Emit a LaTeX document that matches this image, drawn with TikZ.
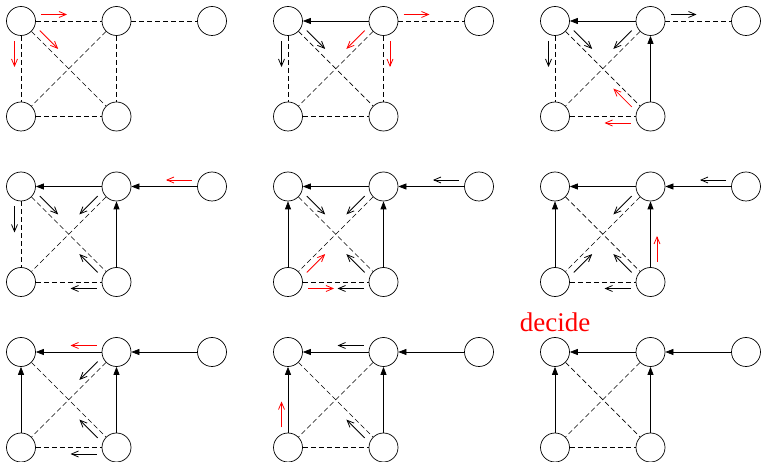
\documentclass[tikz,border=0pt]{standalone}
\usepackage{fontspec}
\setmainfont{Liberation Serif}
\usetikzlibrary{arrows.meta,calc}

\begin{document}
\begin{tikzpicture}[x=1pt, y=1pt]
	\tikzset{vertex/.style = {shape=circle, draw, minimum size=29pt, inner sep=0pt, line width=0.7pt}}
	\tikzset{edge/.style = {line width=0.7pt, -{Triangle[length=8pt, width=6pt]}}}
	\tikzset{link/.style = {line width=0.7pt, dash pattern=on 5pt off 3pt}}
	\tikzset{msg/.style = {line width=0.8pt, -{Straight Barb[length=7pt, width=6pt]}}}
	\tikzset{new/.style = {msg, red}}
	\tikzset{pass/.style = {to path = {($(\tikztostart)!20pt!(\tikztotarget)!6.5pt!#1:(\tikztotarget)$) -- ($(\tikztostart)!46pt!(\tikztotarget)!6.5pt!#1:(\tikztotarget)$)}}}
	\useasboundingbox (0, 0) rectangle (761, -462);
	% the nine rounds, row by row
	\foreach \n/\x/\y in {1/21/-21, 2/288/-21, 3/555/-21,
	                      4/21/-186.5, 5/288/-186.5, 6/555/-186.5,
	                      7/21/-352, 8/288/-352, 9/555/-352} {
		\node[vertex] (a\n) at (\x, \y) {};
		\node[vertex] (b\n) at (\x+95.5, \y) {};
		\node[vertex] (c\n) at (\x+191, \y) {};
		\node[vertex] (d\n) at (\x, \y-95.5) {};
		\node[vertex] (e\n) at (\x+95.5, \y-95.5) {};
	}
	\node[red, font=\fontsize{27}{30}\selectfont, anchor=base] (decide) at (555, -331.5) {decide};

	% round 1
	\foreach \s/\t in {a/b, b/c, a/d, b/e, d/e, a/e, b/d}
		\draw[link] (\s1) -- (\t1);
	\draw[new, pass=90] (a1) to (b1);
	\draw[new, pass=-90] (a1) to (d1);
	\draw[new, pass=90] (a1) to (e1);

	% round 2
	\draw[edge] (b2) -- (a2);
	\foreach \s/\t in {b/c, a/d, b/e, d/e, a/e, b/d}
		\draw[link] (\s2) -- (\t2);
	\draw[msg, pass=-90] (a2) to (d2);
	\draw[msg, pass=90] (a2) to (e2);
	\draw[new, pass=-90] (b2) to (d2);
	\draw[new, pass=90] (b2) to (e2);
	\draw[new, pass=90] (b2) to (c2);

	% round 3
	\draw[edge] (b3) -- (a3);
	\draw[edge] (e3) -- (b3);
	\foreach \s/\t in {b/c, a/d, d/e, a/e, b/d}
		\draw[link] (\s3) -- (\t3);
	\draw[msg, pass=-90] (a3) to (d3);
	\draw[msg, pass=90] (a3) to (e3);
	\draw[msg, pass=-90] (b3) to (d3);
	\draw[msg, pass=90] (b3) to (c3);
	\draw[new, pass=90] (e3) to (a3);
	\draw[new, pass=90] (e3) to (d3);

	% round 4
	\draw[edge] (b4) -- (a4);
	\draw[edge] (c4) -- (b4);
	\draw[edge] (e4) -- (b4);
	\foreach \s/\t in {a/d, d/e, a/e, b/d}
		\draw[link] (\s4) -- (\t4);
	\draw[new, pass=-90] (c4) to (b4);
	\draw[msg, pass=-90] (a4) to (d4);
	\draw[msg, pass=90] (a4) to (e4);
	\draw[msg, pass=-90] (b4) to (d4);
	\draw[msg, pass=90] (e4) to (a4);
	\draw[msg, pass=90] (e4) to (d4);

	% rounds 5 to 9 share the tree
	\foreach \n in {5,...,9} {
		\draw[edge] (b\n) -- (a\n);
		\draw[edge] (c\n) -- (b\n);
		\draw[edge] (e\n) -- (b\n);
		\draw[edge] (d\n) -- (a\n);
		\draw[link] (d\n) -- (e\n);
		\draw[link] (a\n) -- (e\n);
		\draw[link] (b\n) -- (d\n);
	}

	% round 5
	\draw[msg, pass=-90] (c5) to (b5);
	\draw[msg, pass=90] (a5) to (e5);
	\draw[msg, pass=-90] (b5) to (d5);
	\draw[msg, pass=90] (e5) to (a5);
	\draw[msg, pass=90] (e5) to (d5);
	\draw[new, pass=-90] (d5) to (e5);
	\draw[new, pass=-90] (d5) to (b5);

	% round 6
	\draw[msg, pass=-90] (c6) to (b6);
	\draw[msg, pass=-90] (b6) to (d6);
	\draw[msg, pass=-90] (d6) to (b6);
	\draw[msg, pass=90] (e6) to (a6);
	\draw[msg, pass=90] (e6) to (d6);
	\draw[new, pass=-90] (e6) to (b6);

	% round 7
	\draw[new, pass=-90] (b7) to (a7);
	\draw[msg, pass=-90] (b7) to (d7);
	\draw[msg, pass=90] (e7) to (a7);
	\draw[msg, pass=90] (e7) to (d7);

	% round 8
	\draw[msg, pass=-90] (b8) to (a8);
	\draw[msg, pass=90] (e8) to (a8);
	\draw[new, pass=90] (d8) to (a8);
\end{tikzpicture}
\end{document}
